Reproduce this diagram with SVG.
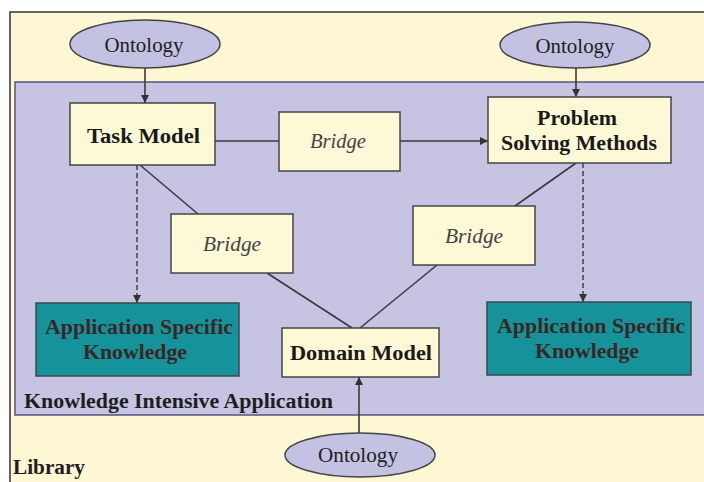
<svg xmlns="http://www.w3.org/2000/svg" width="704" height="482" viewBox="0 0 704 482">
<defs>
<style>
.bg{fill:#fdf7d4;stroke:#333;stroke-width:1.5}
.app{fill:#c6c4e2;stroke:#55557a;stroke-width:1.5}
.box{fill:#fdf8d6;stroke:#444;stroke-width:1.5}
.ask{fill:#16939a;stroke:#3c4a4a;stroke-width:1.5}
.ont{fill:#c4c2e2;stroke:#444;stroke-width:1.5}
.t{font-family:"Liberation Serif",serif;font-weight:bold;font-size:20px;fill:#1a1a1a;text-anchor:middle}
.o{font-family:"Liberation Serif",serif;font-size:20px;fill:#1e1e1e;text-anchor:middle}
.i{font-family:"Liberation Serif",serif;font-style:italic;font-size:20px;fill:#444;text-anchor:middle}
.k{font-family:"Liberation Serif",serif;font-weight:bold;font-size:20px;fill:#3a2626;text-anchor:middle}
.lbl{font-family:"Liberation Serif",serif;font-weight:bold;font-size:20px;fill:#1e1e1e}
.c{stroke:#3a3a3a;stroke-width:1.6;fill:none}
.d{stroke:#3a3a3a;stroke-width:1.4;fill:none;stroke-dasharray:5,3}
</style>
<marker id="ah" viewBox="0 0 10 10" refX="10" refY="5" markerWidth="8" markerHeight="8" orient="auto" markerUnits="userSpaceOnUse">
<path d="M0,0 L10,5 L0,10 z" fill="#333"/>
</marker>
</defs>
<g id="library">
<rect class="bg" x="10" y="12" width="700" height="480"/>
<text class="lbl" x="13" y="474" textLength="72" lengthAdjust="spacingAndGlyphs">Library</text>
</g>
<g id="kia">
<rect class="app" x="15" y="82" width="695" height="333"/>
<text class="lbl" x="24" y="408" textLength="309" lengthAdjust="spacingAndGlyphs">Knowledge Intensive Application</text>
</g>
<g id="connectors">
<line class="c" x1="145" y1="68" x2="145" y2="103" marker-end="url(#ah)"/>
<line class="c" x1="576" y1="68" x2="576" y2="97" marker-end="url(#ah)"/>
<line class="c" x1="359" y1="433" x2="359" y2="377" marker-end="url(#ah)"/>
<line class="c" x1="215" y1="141" x2="279" y2="141"/>
<line class="c" x1="400" y1="141" x2="488" y2="141" marker-end="url(#ah)"/>
<line class="c" x1="140" y1="165" x2="198" y2="214"/>
<line class="c" x1="576" y1="163" x2="515" y2="206"/>
<line class="c" x1="267" y1="273" x2="352" y2="328"/>
<line class="c" x1="437" y1="265" x2="360" y2="328"/>
<line class="d" x1="137" y1="165" x2="137" y2="303" marker-end="url(#ah)"/>
<line class="d" x1="583" y1="163" x2="583" y2="302" marker-end="url(#ah)"/>
</g>
<g id="ontology-left">
<ellipse class="ont" cx="145" cy="44" rx="75" ry="24"/>
<text class="o" x="144" y="52" textLength="79" lengthAdjust="spacingAndGlyphs">Ontology</text>
</g>
<g id="ontology-right">
<ellipse class="ont" cx="575" cy="45" rx="75" ry="23"/>
<text class="o" x="575" y="53" textLength="79" lengthAdjust="spacingAndGlyphs">Ontology</text>
</g>
<g id="ontology-bottom">
<ellipse class="ont" cx="360" cy="455" rx="75" ry="22"/>
<text class="o" x="358" y="462" textLength="80" lengthAdjust="spacingAndGlyphs">Ontology</text>
</g>
<g id="task-model">
<rect class="box" x="70" y="103" width="145" height="62"/>
<text class="t" x="143.5" y="143" textLength="113" lengthAdjust="spacingAndGlyphs">Task Model</text>
</g>
<g id="bridge-top">
<rect class="box" x="279" y="112" width="121" height="59"/>
<text class="i" x="338" y="148" textLength="56" lengthAdjust="spacingAndGlyphs">Bridge</text>
</g>
<g id="psm">
<rect class="box" x="488" y="97" width="183" height="66"/>
<text class="t" x="577" y="125" textLength="80" lengthAdjust="spacingAndGlyphs">Problem</text>
<text class="t" x="579" y="150" textLength="156" lengthAdjust="spacingAndGlyphs">Solving Methods</text>
</g>
<g id="bridge-left">
<rect class="box" x="171" y="214" width="122" height="59"/>
<text class="i" x="232" y="251" textLength="58" lengthAdjust="spacingAndGlyphs">Bridge</text>
</g>
<g id="bridge-right">
<rect class="box" x="413" y="206" width="122" height="59"/>
<text class="i" x="474" y="243" textLength="58" lengthAdjust="spacingAndGlyphs">Bridge</text>
</g>
<g id="ask-left">
<rect class="ask" x="36" y="303" width="203" height="73"/>
<text class="k" x="139" y="334" textLength="188" lengthAdjust="spacingAndGlyphs">Application Specific</text>
<text class="k" x="135" y="359" textLength="104" lengthAdjust="spacingAndGlyphs">Knowledge</text>
</g>
<g id="domain-model">
<rect class="box" x="282" y="328" width="157" height="49"/>
<text class="t" x="361" y="360" textLength="142" lengthAdjust="spacingAndGlyphs">Domain Model</text>
</g>
<g id="ask-right">
<rect class="ask" x="487" y="302" width="204" height="73"/>
<text class="k" x="591" y="333" textLength="188" lengthAdjust="spacingAndGlyphs">Application Specific</text>
<text class="k" x="587" y="358" textLength="104" lengthAdjust="spacingAndGlyphs">Knowledge</text>
</g>
</svg>
